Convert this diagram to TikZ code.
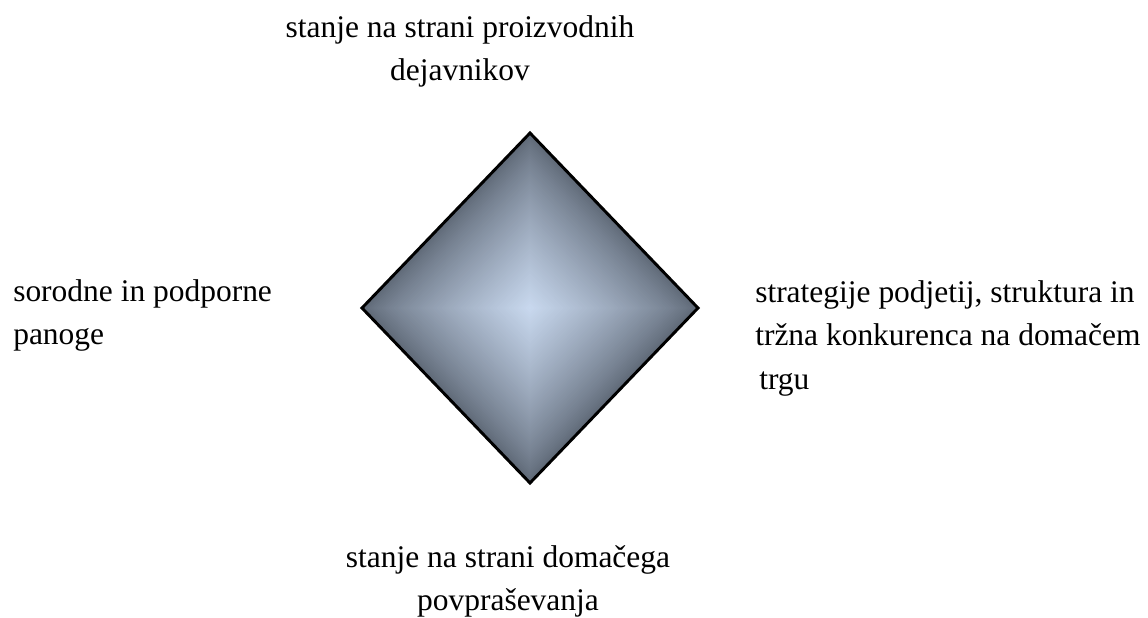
\documentclass[tikz,border=0pt]{standalone}
\usepackage{fontspec}
\setmainfont{Liberation Serif}
\usepackage{tikz}

\definecolor{dusk}{RGB}{94,104,118}
\definecolor{lite}{RGB}{200,216,238}

\tikzset{
    factor/.style={inner sep=0pt, font=\fontsize{23.6pt}{32pt}\selectfont},
}

\begin{document}
\begin{tikzpicture}[x=0.75pt,y=-0.75pt]
        \useasboundingbox (0,0) rectangle (1148,617);

        \begin{scope}[shift={(530,308)}]
            \foreach \i in {0,...,69}{
                \pgfmathsetmacro\s{1-\i/70}
                \pgfmathsetmacro\m{100*(\i/69)^0.8}
                \fill[lite!\m!dusk] (0,-175*\s) -- (168*\s,0) -- (0,175*\s) -- (-168*\s,0) -- cycle;
            }
            \coordinate (n) at (0,-175);
            \coordinate (e) at (168,0);
            \coordinate (s) at (0,175);
            \coordinate (w) at (-168,0);
            \draw[line width=2.2pt] (n) -- (e) -- (s) -- (w) -- cycle;
        \end{scope}

        \begin{scope}[every node/.style={factor}]
            \node[anchor=north, align=center] (top) at (460,15.5) {stanje na strani proizvodnih\\dejavnikov};
            \node[anchor=north west, align=left] (left) at (13,279.5) {sorodne in podporne\\panoge};
            \node[anchor=north west, align=left, font=\fontsize{23.6pt}{32.6pt}\selectfont] (right) at (755,280) {strategije podjetij, struktura in\\tržna konkurenca na domačem\\\hspace{3pt}trgu};
            \node[anchor=north, align=center] (bottom) at (508,545.5) {stanje na strani domačega\\povpraševanja};
        \end{scope}
    \end{tikzpicture}
\end{document}
